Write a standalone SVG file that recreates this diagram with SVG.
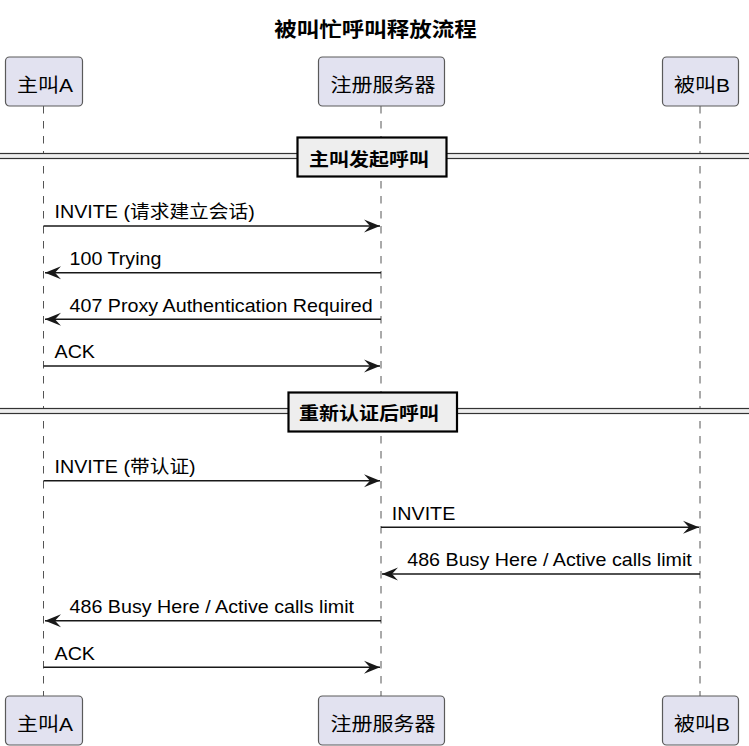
<svg xmlns="http://www.w3.org/2000/svg" width="749" height="746" viewBox="0 0 749 746">
<style>
text{font-family:"Liberation Sans","Noto Sans CJK SC",sans-serif;fill:#000}
.t{font-size:22.5px;font-weight:bold;text-anchor:middle}
.p{font-size:21px;text-anchor:middle}
.m{font-size:19.7px}
.d{font-size:20px;font-weight:bold}
.box{fill:#E2E2F0;stroke:#5a5a5a;stroke-width:1.2}
.life{stroke:#555;stroke-width:1;stroke-dasharray:7.5 7.5;fill:none}
.msg{stroke:#181818;stroke-width:1.5;fill:none;marker-end:url(#ah)}
.sepl{fill:#EEEEEE;stroke:#333;stroke-width:1.2}
.sepb{fill:#EEEEEE;stroke:#000;stroke-width:2.2}
</style>
<defs>
<marker id="ah" markerUnits="userSpaceOnUse" viewBox="-17 -7 18 14" refX="0" refY="0" markerWidth="18" markerHeight="14" orient="auto">
<path d="M-16,-6.5 L0,0 L-16,6.5 L-10,0 Z" fill="#181818"/>
</marker>
</defs>
<text class="t" transform="translate(375.5 37) scale(1 .9)">被叫忙呼叫释放流程</text>
<g id="lifelines">
<line class="life" x1="43.5" y1="106" x2="43.5" y2="696"/>
<line class="life" x1="381" y1="106" x2="381" y2="696"/>
<line class="life" x1="700" y1="106" x2="700" y2="696"/>
</g>
<g id="pA">
<rect class="box" x="5.5" y="57" width="77" height="49" rx="4"/>
<text class="p" transform="translate(45 91.5) scale(1 .9)">主叫A</text>
</g>
<g id="pS">
<rect class="box" x="318.5" y="57" width="126" height="49" rx="4"/>
<text class="p" transform="translate(383 91.5) scale(1 .9)">注册服务器</text>
</g>
<g id="pB">
<rect class="box" x="662.5" y="57" width="76" height="49" rx="4"/>
<text class="p" transform="translate(702 91.5) scale(1 .9)">被叫B</text>
</g>
<g id="pA2">
<rect class="box" x="5.5" y="696" width="77" height="49" rx="4"/>
<text class="p" transform="translate(45 730.5) scale(1 .9)">主叫A</text>
</g>
<g id="pS2">
<rect class="box" x="318.5" y="696" width="126" height="49" rx="4"/>
<text class="p" transform="translate(383 730.5) scale(1 .9)">注册服务器</text>
</g>
<g id="pB2">
<rect class="box" x="662.5" y="696" width="76" height="49" rx="4"/>
<text class="p" transform="translate(702 730.5) scale(1 .9)">被叫B</text>
</g>
<g id="div1">
<rect class="sepl" x="-2" y="153.5" width="753" height="5"/>
<rect class="sepb" x="297.5" y="137.5" width="149" height="39"/>
<text class="d" transform="translate(309 165.5) scale(1 .9)">主叫发起呼叫</text>
</g>
<g id="div2">
<rect class="sepl" x="-2" y="408.5" width="753" height="5"/>
<rect class="sepb" x="288.5" y="392.5" width="168.5" height="39"/>
<text class="d" transform="translate(299 420.2) scale(1 .9)">重新认证后呼叫</text>
</g>
<g id="connectors">
<line class="msg" x1="43.5" y1="226" x2="380" y2="226"/>
<line class="msg" x1="381" y1="272.7" x2="45" y2="272.7"/>
<line class="msg" x1="381" y1="319.3" x2="45" y2="319.3"/>
<line class="msg" x1="43.5" y1="366" x2="380" y2="366"/>
<line class="msg" x1="43.5" y1="480.7" x2="380" y2="480.7"/>
<line class="msg" x1="381" y1="527.3" x2="699" y2="527.3"/>
<line class="msg" x1="700" y1="574" x2="382" y2="574"/>
<line class="msg" x1="381" y1="620.7" x2="45" y2="620.7"/>
<line class="msg" x1="43.5" y1="667.3" x2="380" y2="667.3"/>
</g>
<g id="labels">
<text class="m" transform="translate(54.5 218.3) scale(1 .9)">INVITE (请求建立会话)</text>
<text class="m" transform="translate(69.5 265) scale(1 .9)">100 Trying</text>
<text class="m" transform="translate(69.5 311.6) scale(1 .9)">407 Proxy Authentication Required</text>
<text class="m" transform="translate(54.5 358.3) scale(1 .9)">ACK</text>
<text class="m" transform="translate(54.5 473) scale(1 .9)">INVITE (带认证)</text>
<text class="m" transform="translate(391.8 519.6) scale(1 .9)">INVITE</text>
<text class="m" transform="translate(407.2 566.3) scale(1 .9)">486 Busy Here / Active calls limit</text>
<text class="m" transform="translate(69.5 613) scale(1 .9)">486 Busy Here / Active calls limit</text>
<text class="m" transform="translate(54.5 659.6) scale(1 .9)">ACK</text>
</g>
</svg>
